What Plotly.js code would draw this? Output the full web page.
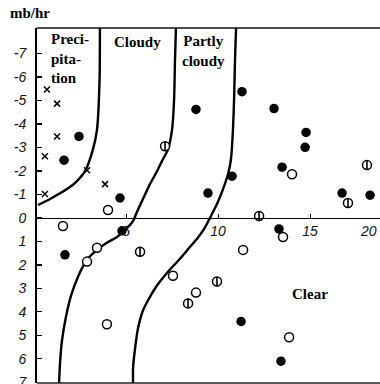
<!DOCTYPE html>
<html><head><meta charset="utf-8">
<script src="https://cdn.plot.ly/plotly-3.0.1.min.js"></script>
<style>html,body{margin:0;padding:0;background:#fff;overflow:hidden}#chart{width:380px;height:384px}</style>
</head><body><div id="chart"></div>
<script>
// Boundary curves
const precipX = [3.58, 3.56, 3.42, 3.20, 2.77, 2.28, 1.79, 0.87, 0.21];
const precipY = [-8.09, -5.89, -3.75, -2.92, -1.99, -1.53, -1.23, -0.81, -0.55];

const cloudyX = [7.71, 7.66, 7.61, 7.50, 7.28, 6.95, 6.68, 6.30, 5.92, 5.59, 5.38, 5.00, 4.51, 3.96, 3.42, 2.88, 2.39, 2.01, 1.74, 1.52, 1.41, 1.36];
const cloudyY = [-8.09, -6.74, -5.04, -3.77, -2.92, -2.42, -1.99, -1.44, -0.81, -0.25, 0.13, 0.47, 0.81, 1.06, 1.36, 1.78, 2.50, 3.31, 4.19, 5.21, 6.19, 7.05];

const partlyX = [10.98, 10.92, 10.87, 10.81, 10.70, 10.54, 10.27, 9.94, 9.56, 9.24, 8.86, 8.48, 7.93, 7.28, 6.68, 6.25, 5.92, 5.65, 5.49, 5.38, 5.38];
const partlyY = [-8.09, -6.74, -5.04, -3.77, -2.50, -1.86, -1.23, -0.59, 0.00, 0.47, 0.89, 1.23, 1.74, 2.29, 2.88, 3.43, 3.94, 4.70, 5.55, 6.40, 7.05];

// Observations
const crossX = [0.70, 1.25, 1.25, 0.59, 0.59, 2.88, 3.86];
const crossY = [-5.47, -4.87, -3.47, -2.63, -1.02, -2.03, -1.44];

const solidX = [2.44, 1.63, 4.67, 4.78, 1.68, 14.78, 14.73, 13.48, 10.76, 16.74, 18.26, 13.31, 11.25, 13.42, 11.30, 8.80, 13.04, 9.45];
const solidY = [-3.47, -2.46, -0.85, 0.55, 1.57, -3.64, -3.01, -2.16, -1.78, -1.06, -0.97, 0.47, 4.41, 6.10, -5.38, -4.62, -4.66, -1.06];

const openX = [4.02, 1.57, 3.42, 2.88, 7.55, 8.80, 3.96, 13.86, 13.53, 11.36, 14.02];
const openY = [-0.34, 0.34, 1.27, 1.86, 2.46, 3.18, 4.53, 5.08, 0.81, 1.36, -1.86];

const barX = [7.12, 18.09, 17.06, 12.23, 9.94, 8.37, 5.76];
const barY = [-3.05, -2.25, -0.64, -0.08, 2.71, 3.64, 1.44];

const yTickVals = [-7, -6, -5, -4, -3, -2, -1, 0, 1, 2, 3, 4, 5, 6, 7];
const yTickText = ["-7", "-6", "-5", "-4", "-3", "-2", "-1", "0", "1", "2", "3", "4", "5", "6", "7"];
const xTickVals = [5, 10, 15];
const xTickText = ["5", "10", "15"];
const xEdgeLabel = "20";
const yUnit = "mb/hr";
const regionLabels = [
  {text: "Preci-<br>pita-<br>tion", x: 0.81, y: -6.78, xanchor: "left"},
  {text: "Cloudy", x: 5.60, y: -7.5, xanchor: "center"},
  {text: "Partly<br>cloudy", x: 9.21, y: -7.12, xanchor: "center"},
  {text: "Clear", x: 15.0, y: 3.22, xanchor: "center"}
];

const xRange = [0.16, 18.8];
const yRange = [7.03, -8.09];

const lineStyle = {color: "#000", width: 2.4, shape: "spline", smoothing: 0.6};
const traces = [
  {x: precipX, y: precipY, mode: "lines", line: lineStyle, hoverinfo: "skip"},
  {x: cloudyX, y: cloudyY, mode: "lines", line: lineStyle, hoverinfo: "skip"},
  {x: partlyX, y: partlyY, mode: "lines", line: lineStyle, hoverinfo: "skip"},
  {x: crossX, y: crossY, mode: "markers", marker: {symbol: "x-thin-open", size: 6, color: "#000", line: {color: "#000", width: 1.5}}},
  {x: openX, y: openY, mode: "markers", marker: {symbol: "circle", size: 9, color: "#fff", line: {color: "#000", width: 1.5}}},
  {x: barX, y: barY, mode: "markers", marker: {symbol: "circle", size: 9, color: "#fff", line: {color: "#000", width: 1.5}}},
  {x: barX, y: barY, mode: "markers", marker: {symbol: "line-ns-open", size: 6.5, color: "#000", line: {color: "#000", width: 1.6}}},
  {x: solidX, y: solidY, mode: "markers", marker: {symbol: "circle", size: 9.5, color: "#000", line: {width: 0}}}
];

const tickFont = {family: "Liberation Sans, Arial, sans-serif", size: 14, color: "#111", style: "italic"};
const labFont = {family: "Liberation Serif, Times New Roman, serif", size: 15, color: "#000", weight: "bold"};

const annotations = regionLabels.map(r => ({
  text: r.text, x: r.x, y: r.y, xref: "x", yref: "y", xanchor: r.xanchor, yanchor: "middle",
  align: r.xanchor === "left" ? "left" : "center", showarrow: false, font: labFont
}));
annotations.push({text: yUnit, xref: "paper", yref: "paper", x: -0.02, y: 1.042, xanchor: "center", yanchor: "middle", showarrow: false, font: labFont});
annotations.push({text: xEdgeLabel, xref: "paper", yref: "y", x: 1.0, y: 0, xanchor: "right", yanchor: "top", yshift: -3, xshift: -1, showarrow: false, font: tickFont});

const layout = {
  width: 380, height: 384,
  margin: {l: 37, r: 0, t: 28, b: 1},
  paper_bgcolor: "#fff", plot_bgcolor: "#fff",
  showlegend: false,
  xaxis: {
    range: xRange, anchor: "free", position: yRange[0] / (yRange[0] - yRange[1]),
    showline: true, linecolor: "#000", linewidth: 1.5,
    ticks: "inside", ticklen: 4, tickwidth: 1, tickcolor: "#000",
    tickvals: xTickVals, ticktext: xTickText, tickfont: tickFont,
    showgrid: false, zeroline: false
  },
  yaxis: {
    range: yRange, domain: [0, 1],
    showline: true, linecolor: "#000", linewidth: 2,
    ticks: "inside", ticklen: 5, tickwidth: 1.2, tickcolor: "#000",
    tickvals: yTickVals, ticktext: yTickText, tickfont: tickFont,
    ticklabelstandoff: 6, ticklabeloverflow: "allow",
    showgrid: false, zeroline: false
  },
  shapes: [
    {type: "line", xref: "paper", yref: "paper", x0: 0, x1: 1, y0: 1, y1: 1, line: {color: "#111", width: 1.5}},
    {type: "line", xref: "paper", yref: "paper", x0: 0, x1: 1, y0: 0, y1: 0, line: {color: "#222", width: 1.5}}
  ],
  annotations: annotations
};

Plotly.newPlot("chart", traces, layout, {staticPlot: true, displayModeBar: false});
</script>
</body></html>
